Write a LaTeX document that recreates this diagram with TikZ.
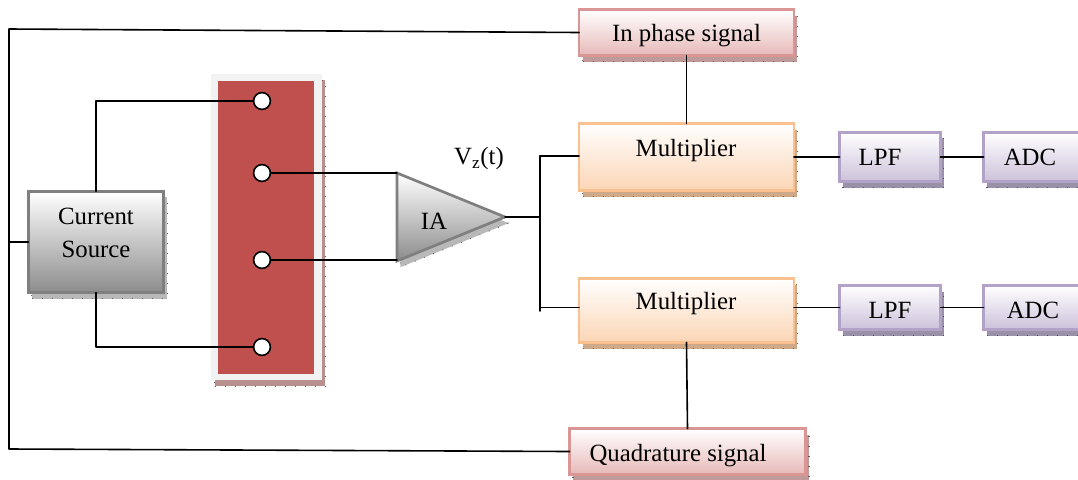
\documentclass[tikz,border=0pt]{standalone}
\usepackage{fontspec}
\setmainfont{Liberation Serif}
\usetikzlibrary{shapes.geometric, shadows, calc, positioning}

\definecolor{pinkline}{HTML}{D99694}
\definecolor{pinkfill}{HTML}{E6B9B8}
\definecolor{pinkshade}{HTML}{C09A98}
\definecolor{orangeline}{HTML}{FAC090}
\definecolor{orangefill}{HTML}{FBD5B5}
\definecolor{orangeshade}{HTML}{CFA888}
\definecolor{purpleline}{HTML}{B3A2C7}
\definecolor{purplefill}{HTML}{CCC1DA}
\definecolor{purpleshade}{HTML}{9A90A8}
\definecolor{greyline}{HTML}{7F7F7F}
\definecolor{greyfill}{HTML}{8C8C8C}
\definecolor{greyshade}{HTML}{B8B8B8}
\definecolor{padred}{HTML}{C0504D}
\definecolor{padedge}{HTML}{F2F2F2}
\definecolor{padshade}{HTML}{B89090}

\begin{document}
\begin{tikzpicture}[
    x=0.75pt,
    y=-0.75pt,
    font=\fontsize{18.6}{24.4}\selectfont,
    wire/.style={
        line width=1.2pt,
        line cap=round,
        line join=round
    },
    hatched/.style={
        general shadow={
            shadow xshift=2.6pt,
            shadow yshift=-4.6pt,
            fill=#1,
            draw=#1!55!black,
            line width=0.8pt,
            dash pattern=on 0.6pt off 6.9pt
        }
    },
    blockbox/.style={
        rectangle,
        inner sep=0pt,
        outer sep=0pt,
        line width=2pt,
        align=center
    },
    signal/.style={
        blockbox,
        draw=pinkline,
        top color=white,
        bottom color=pinkfill,
        minimum height=34.5pt,
        hatched=pinkshade
    },
    mixer/.style={
        blockbox,
        draw=orangeline,
        top color=white,
        bottom color=orangefill,
        minimum width=161.2pt,
        hatched=orangeshade
    },
    filterbox/.style={
        blockbox,
        draw=purpleline,
        top color=white,
        bottom color=purplefill,
        minimum width=75.7pt,
        hatched=purpleshade
    },
    terminal/.style={
        circle,
        draw,
        fill=white,
        line width=1.2pt,
        inner sep=0pt,
        outer sep=0pt,
        minimum size=12.6pt
    }
]

    % Reference signals
    \useasboundingbox (0,0) rectangle (1078,479);
    \node [signal, minimum width=161.2pt] (inphase) at (686.5,32.5) {};
    \node (inphasetext) at (686.5,35.5) {In phase signal};
    \node [signal, minimum width=177pt] (quad) at (687.5,451.5) {};
    \node (quadtext) at (678,456) {Quadrature signal};

    % Multipliers
    \node [mixer, minimum height=50.2pt] (multa) at (686.5,157) {};
    \node (multatext) at (686,151) {Multiplier};
    \node [mixer, minimum height=48pt] (multb) at (686.5,310.5) {};
    \node (multbtext) at (686,304) {Multiplier};

    % Filters and converters
    \node [filterbox, minimum height=37pt] (lpfa) at (890,157) {};
    \node (lpfatext) at (880,157.5) {LPF};
    \node [filterbox, minimum height=33pt] (lpfb) at (890,307.5) {};
    \node (lpfbtext) at (890,310) {LPF};
    \node [filterbox, minimum height=37pt] (adca) at (1034,157) {};
    \node (adcatext) at (1030,157.5) {ADC};
    \node [filterbox, minimum height=33pt] (adcb) at (1034,307.5) {};
    \node (adcbtext) at (1033,310) {ADC};

    % Source
    \node [blockbox, draw=greyline, top color=white, bottom color=greyfill, minimum width=101.5pt, minimum height=76pt, hatched=greyshade] (source) at (96,242) {};
    \node [align=center] (sourcetext) at (96,233) {Current\\Source};

    % Electrode panel
    \node [rectangle, fill=padedge, inner sep=0pt, minimum width=83.2pt, minimum height=229.5pt, hatched=padshade] (panel) at (266.5,227) {};
    \node [rectangle, fill=padred, inner sep=0pt, minimum width=72pt, minimum height=219.7pt] (pad) at (266,227.5) {};
    \node [terminal] (ta) at (262,101) {};
    \node [terminal] (tb) at (262,173) {};
    \node [terminal] (tc) at (262,260) {};
    \node [terminal] (td) at (262,347) {};

    % Amplifier
    \node [isosceles triangle, isosceles triangle apex angle=44, isosceles triangle stretches, draw=greyline, line width=2pt, top color=white, bottom color=greyfill, minimum width=66pt, minimum height=81pt, inner sep=0pt, outer sep=0pt, hatched=greyshade, anchor=lower side] (amp) at (397,217) {};
    \node (amptext) at (434,221) {IA};
    \node (vz) at (479,159) {V\textsubscript{z}(t)};

    % Bends
    \coordinate (topleft) at (9,29);
    \coordinate (lowleft) at (9,449);
    \coordinate (bustie) at (540,217);
    \coordinate (busup) at (540,156);
    \coordinate (buslow) at (540,311);

    % Connections
    \draw [wire] (inphase.west) -- (topleft) -- (lowleft) -- (quad.west);
    \draw [wire] (source.west) -- (source.west -| topleft);
    \draw [wire] (source.north) -- (source.north |- ta.west) -- (ta.west);
    \draw [wire] (source.south) -- (source.south |- td.west) -- (td.west);
    \draw [wire] (tb.east) -- (tb.east -| amp.lower side);
    \draw [wire] (tc.east) -- (tc.east -| amp.lower side);
    \draw [wire] (amp.apex) -- (bustie);
    \draw [wire] (busup) -- (buslow);
    \draw [wire] (busup) -- (busup -| multa.west);
    \draw [wire] (buslow |- lpfb.west) -- (multb.west |- lpfb.west);
    \draw [wire] (inphase.south) -- (multa.north);
    \draw [wire] (multb.south) -- (quad.north);
    \draw [wire] (multa.east) -- (lpfa.west);
    \draw [wire] (lpfa.east) -- (adca.west);
    \draw [wire] (multb.east |- lpfb.west) -- (lpfb.west);
    \draw [wire] (lpfb.east) -- (adcb.west);

\end{tikzpicture}
\end{document}
